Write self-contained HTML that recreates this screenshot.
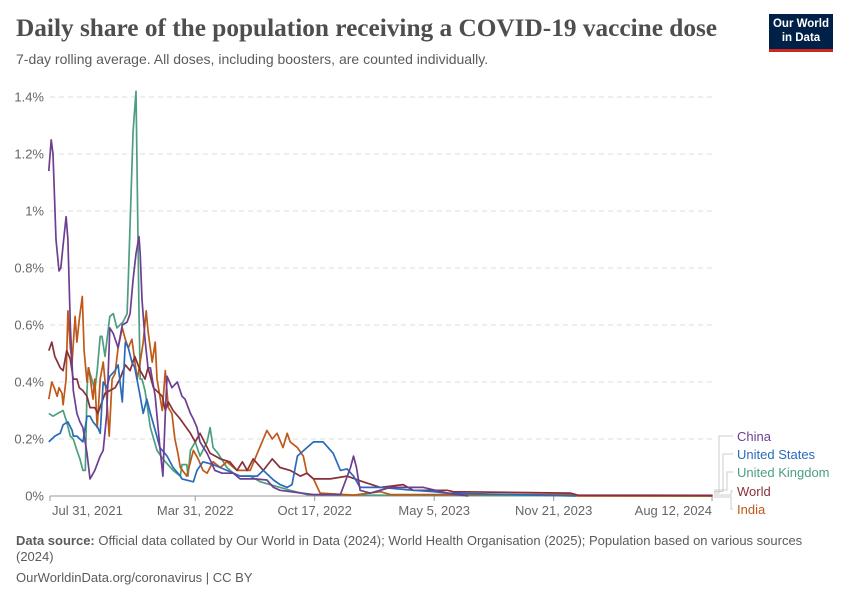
<!DOCTYPE html>
<html><head><meta charset="utf-8"><style>
body{margin:0;width:850px;height:600px;background:#fff;font-family:"Liberation Sans",sans-serif;overflow:hidden;position:relative}
.t{position:absolute;left:16px;top:14px;font-family:"Liberation Serif",serif;font-weight:bold;font-size:25.3px;color:#4e4e4e}
.s{position:absolute;left:16px;top:51px;font-size:14px;color:#5b5b5b}
.logo{position:absolute;left:769px;top:14px;width:64px;height:38px;background:#002147;border-bottom:3px solid #ce261e;color:#fff;font-size:11.5px;font-weight:bold;text-align:center;line-height:14px;padding-top:3px;box-sizing:border-box}
.f{position:absolute;left:16px;font-size:13px;color:#5b5b5b;width:800px;line-height:16px}
</style></head><body>
<div class="t">Daily share of the population receiving a COVID-19 vaccine dose</div>
<div class="s">7-day rolling average. All doses, including boosters, are counted individually.</div>
<div class="logo">Our World<br>in Data</div>
<svg id="c" width="850" height="600" style="position:absolute;left:0;top:0"></svg>
<div class="f" style="top:533px"><b>Data source:</b> Official data collated by Our World in Data (2024); World Health Organisation (2025); Population based on various sources (2024)</div>
<div class="f" style="top:570px">OurWorldinData.org/coronavirus | CC BY</div>
<script>
const yTicks=[0,0.2,0.4,0.6,0.8,1,1.2,1.4];
const yTickLabels=["0%","0.2%","0.4%","0.6%","0.8%","1%","1.2%","1.4%"];
const xTickDays=[0,243,443,643,843,1108];
const xTickLabels=["Jul 31, 2021","Mar 31, 2022","Oct 17, 2022","May 5, 2023","Nov 21, 2023","Aug 12, 2024"];
const seriesNames=["China","United States","United Kingdom","World","India"];
const chinaDays=[-2,2,5,10,15,18,22,27,30,34,39,45,50,55,62,67,75,84,89,95,100,106,114,121,129,134,139,144,149,151,154,159,164,168,176,184,189,193,196,204,213,221,226,235,240,246,251,263,276,288,307,318,343,363,374,385,441,486,503,508,513,519,536,570,625,665,700];
const chinaVals=[1.14,1.25,1.2,0.9,0.79,0.8,0.88,0.98,0.9,0.6,0.37,0.29,0.26,0.24,0.15,0.06,0.09,0.14,0.16,0.29,0.59,0.57,0.52,0.6,0.61,0.64,0.76,0.85,0.91,0.85,0.69,0.55,0.45,0.45,0.35,0.17,0.07,0.29,0.42,0.38,0.40,0.35,0.34,0.29,0.27,0.24,0.19,0.15,0.09,0.08,0.08,0.06,0.06,0.056,0.03,0.02,0.005,0.005,0.1,0.14,0.1,0.02,0.01,0.03,0.03,0.01,0];
const usDays=[-2,8,17,22,30,37,39,45,50,55,62,67,72,80,84,89,95,100,109,114,121,126,131,137,142,151,156,162,168,176,184,196,206,218,221,240,246,256,273,296,318,347,357,374,385,397,405,414,430,441,457,474,486,497,508,519,553,608,642,665,880];
const usVals=[0.19,0.21,0.22,0.25,0.26,0.23,0.21,0.21,0.2,0.19,0.28,0.28,0.26,0.24,0.22,0.40,0.38,0.42,0.44,0.46,0.33,0.54,0.52,0.47,0.45,0.35,0.29,0.34,0.29,0.23,0.17,0.14,0.10,0.07,0.06,0.05,0.09,0.12,0.11,0.09,0.07,0.07,0.09,0.056,0.04,0.03,0.04,0.14,0.17,0.19,0.19,0.15,0.09,0.095,0.07,0.03,0.03,0.02,0.015,0.01,0];
const ukDays=[-2,5,13,22,28,34,39,45,50,55,59,62,64,70,75,79,84,87,92,100,106,112,122,129,131,139,144,146,149,151,154,159,168,179,189,206,218,221,229,231,235,243,251,263,268,273,281,296,307,318,335,352,385,402,430,500,1109];
const ukVals=[0.29,0.28,0.29,0.30,0.26,0.21,0.20,0.16,0.13,0.09,0.09,0.37,0.45,0.41,0.37,0.44,0.56,0.56,0.49,0.63,0.64,0.59,0.61,0.64,0.76,1.28,1.42,1.11,0.64,0.41,0.41,0.37,0.24,0.16,0.13,0.09,0.07,0.11,0.11,0.07,0.16,0.19,0.14,0.19,0.24,0.17,0.15,0.10,0.08,0.07,0.07,0.05,0.03,0.02,0.005,0.003,0];
const worldDays=[-2,3,8,17,22,28,34,39,45,49,55,62,67,75,80,87,92,100,109,117,126,134,142,151,159,164,173,188,193,198,206,218,235,243,251,268,285,301,313,322,330,340,357,372,385,402,419,430,441,469,497,524,553,591,608,625,665,675,871,883,1109];
const worldVals=[0.51,0.54,0.49,0.45,0.44,0.51,0.48,0.41,0.41,0.38,0.37,0.35,0.31,0.31,0.29,0.33,0.36,0.37,0.38,0.41,0.46,0.44,0.49,0.44,0.41,0.45,0.38,0.35,0.30,0.33,0.30,0.27,0.22,0.19,0.22,0.15,0.13,0.12,0.09,0.12,0.09,0.13,0.09,0.13,0.10,0.09,0.07,0.08,0.06,0.06,0.07,0.05,0.03,0.04,0.02,0.02,0.02,0.015,0.01,0.003,0.002];
const indiaDays=[-2,3,7,12,15,20,22,27,30,34,37,42,45,49,54,57,62,65,72,75,79,84,89,95,99,104,109,114,121,126,131,137,146,151,156,161,164,171,176,179,188,193,198,204,209,214,218,229,235,240,248,256,263,273,285,296,313,335,347,355,363,372,380,390,397,402,414,424,430,441,452,508,553,570,600,870,883,1109];
const indiaVals=[0.34,0.40,0.38,0.35,0.38,0.36,0.32,0.41,0.65,0.52,0.47,0.63,0.54,0.62,0.70,0.51,0.40,0.45,0.34,0.41,0.24,0.41,0.47,0.34,0.21,0.41,0.43,0.52,0.59,0.55,0.52,0.55,0.41,0.47,0.54,0.65,0.58,0.47,0.54,0.41,0.30,0.44,0.31,0.29,0.20,0.15,0.10,0.07,0.12,0.16,0.13,0.09,0.08,0.12,0.10,0.12,0.09,0.09,0.15,0.19,0.23,0.20,0.22,0.17,0.22,0.19,0.17,0.14,0.08,0.06,0.01,0.003,0.015,0.005,0.005,0.005,0,0];
const colors=["#6d3e91","#286bbb","#4c9f7e","#883039","#c05917"];
const NS="http://www.w3.org/2000/svg";
const svg=document.getElementById('c');
const x=d=>50+d*0.5975;
const y=v=>496-v*285;
function mk(t,a){const e=document.createElementNS(NS,t);for(const k in a)e.setAttribute(k,a[k]);svg.appendChild(e);return e;}
yTicks.forEach((v,i)=>{
  if(v>0){const g=mk('line',{x1:50,x2:712,y1:y(v),y2:y(v),stroke:'#ddd','stroke-dasharray':'5,4'});
  
  }
  const t=mk('text',{x:44,y:y(v)+4.5,'text-anchor':'end','font-size':13,fill:'#666','font-family':'Liberation Sans, sans-serif'});
  t.textContent=yTickLabels[i];
  
  
});
const ax=mk('line',{x1:50,x2:712,y1:496,y2:496,stroke:'#999'});


xTickDays.forEach((d,i)=>{
  const tk=mk('line',{x1:x(d),x2:x(d),y1:496,y2:501,stroke:'#999'});
  
  
  const anchor=i==0?'start':(i==xTickDays.length-1?'end':'middle');
  const t=mk('text',{x:x(d)+(i==0?2:0),y:515,'text-anchor':anchor,'font-size':13,fill:'#666','font-family':'Liberation Sans, sans-serif'});
  t.textContent=xTickLabels[i];
  
  
});
const allDays=[chinaDays,usDays,ukDays,worldDays,indiaDays];
const allVals=[chinaVals,usVals,ukVals,worldVals,indiaVals];
const order=[2,4,3,1,0];
order.forEach(i=>{
  const pts=allDays[i].map((d,j)=>x(d).toFixed(1)+','+y(allVals[i][j]).toFixed(1)).join(' ');
  const p=mk('polyline',{points:pts,fill:'none',stroke:colors[i],'stroke-width':1.7,'stroke-linejoin':'round'});
  
  
});
const legY=[440,458,476,495,513];
const bendX=[719,723,727,731,731];
legY.forEach((ly,i)=>{
  const ey=i<3?493-i*1.5:(i==3?495:497);
  const c=mk('polyline',{points:`714,${ey} ${bendX[i]},${ey} ${bendX[i]},${ly-4} 733,${ly-4}`,fill:'none',stroke:'#ccc','stroke-width':1});
  
  
  const t=mk('text',{x:737,y:ly+1,'font-size':13,fill:colors[i],'font-family':'Liberation Sans, sans-serif'});
  t.textContent=seriesNames[i];
  
  
});
</script>
</body></html>
